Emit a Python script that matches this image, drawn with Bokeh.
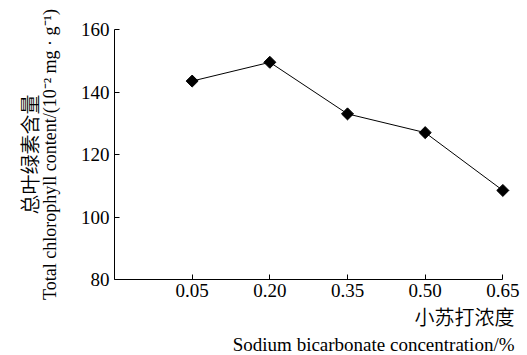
import numpy as np
from bokeh.plotting import figure
from bokeh.models import Range1d, FixedTicker, LinearAxis, Title
from bokeh.embed import file_html
from bokeh.resources import INLINE

# data
categories = ["0.05", "0.20", "0.35", "0.50", "0.65"]
chlorophyll = [143.5, 149.5, 133.0, 127.0, 108.5]
y_ticks = [80, 100, 120, 140, 160]
x_title_cn = "小苏打浓度"
x_title_en = "Sodium bicarbonate concentration/%"
y_title_cn = "总叶绿素含量"
y_title_en = "Total chlorophyll content/(10\u207b\u00b2 mg \u00b7 g\u207b\u00b9)"

xs = list(range(1, len(categories) + 1))

p = figure(width=527, height=355, output_backend="svg", toolbar_location=None,
           x_range=Range1d(0, 5.15), y_range=Range1d(80, 160),
           min_border_left=114, min_border_right=13, min_border_top=29,
           min_border_bottom=70)
p.outline_line_color = None
p.grid.visible = False
p.background_fill_color = "white"
p.border_fill_color = "white"

serif = "Liberation Serif"
cjk = "Noto Sans CJK SC DemiLight, Noto Sans CJK SC"

for ax in (p.xaxis[0], p.yaxis[0]):
    ax.axis_line_color = "black"
    ax.axis_line_width = 1
    ax.major_tick_line_color = "black"
    ax.minor_tick_line_color = None
    ax.major_tick_in = 5
    ax.major_tick_out = 0
    ax.major_label_text_font = serif
    ax.major_label_text_font_size = "19px"
    ax.major_label_text_color = "black"
    ax.major_label_standoff = 5
    ax.axis_label_text_font_style = "normal"
    ax.axis_label_text_color = "black"

p.xaxis.bounds = (0, 5)
p.xaxis.ticker = FixedTicker(ticks=xs)
p.xaxis.major_label_overrides = {x: c for x, c in zip(xs, categories)}
p.xaxis.major_label_standoff = 4
p.yaxis.ticker = FixedTicker(ticks=y_ticks)

# y titles: English line as the axis label, Chinese line on a bare axis further left
p.yaxis.axis_label = y_title_en
p.yaxis.axis_label_text_font = serif
p.yaxis.axis_label_text_font_size = "18px"
p.yaxis.axis_label_standoff = 18

cn_axis = LinearAxis(ticker=FixedTicker(ticks=[]), axis_label=y_title_cn)
cn_axis.axis_line_color = None
cn_axis.major_tick_line_color = None
cn_axis.minor_tick_line_color = None
cn_axis.major_label_text_font_size = "0px"
cn_axis.major_tick_in = 0
cn_axis.major_tick_out = 0
cn_axis.major_label_standoff = 0
cn_axis.axis_label_text_font = cjk
cn_axis.axis_label_text_font_size = "20px"
cn_axis.axis_label_text_font_style = "normal"
cn_axis.axis_label_text_color = "black"
cn_axis.axis_label_standoff = -7
p.add_layout(cn_axis, "left")

# x titles, right aligned under the axis
p.add_layout(Title(text=x_title_cn, align="right", text_font=cjk,
                   text_font_size="20px", text_font_style="normal",
                   text_color="black", standoff=1), "below")
p.add_layout(Title(text=x_title_en, align="right", text_font=serif,
                   text_font_size="19px", text_font_style="normal",
                   text_color="black", standoff=1), "below")

p.line(xs, chlorophyll, line_color="black", line_width=1)
p.scatter(xs, chlorophyll, marker="square", angle=np.pi / 4, size=8.5,
          fill_color="black", line_color="black")

open("out.html", "w").write(file_html(p, INLINE))
